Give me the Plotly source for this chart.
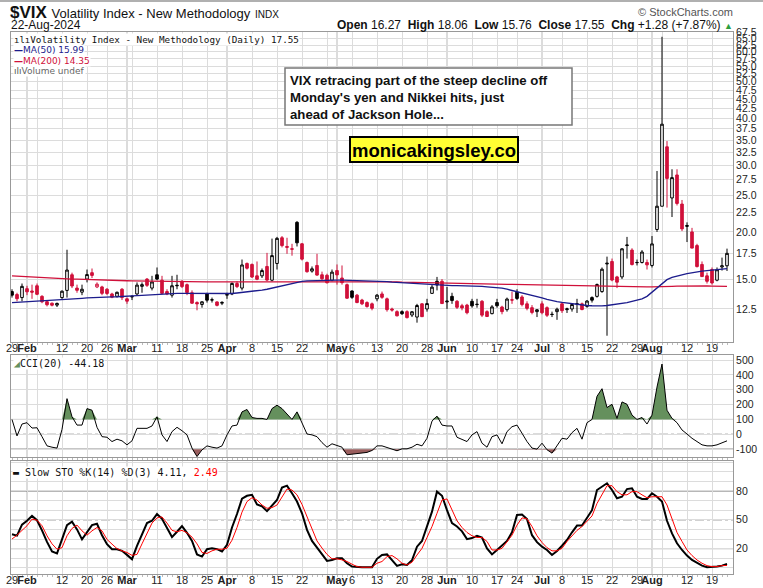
import plotly.graph_objects as go
import pandas as pd

# ---------------- data ----------------
HOLIDAYS = ["2024-02-19", "2024-03-29", "2024-05-27", "2024-06-19", "2024-07-04"]
dates = [d for d in pd.bdate_range("2024-01-29", "2024-08-22")
         if d.strftime("%Y-%m-%d") not in HOLIDAYS]
PREV_CLOSE = 13.26

opens = [
    13.90, 13.65, 13.40, 14.15, 13.95, 14.40, 13.50, 13.07, 12.95, 12.80,
    13.40, 14.00, 15.40, 14.20, 13.85, 15.00, 15.60, 14.30, 14.30, 14.10,
    13.70, 13.50, 14.10, 13.30, 13.45, 13.70, 14.35, 15.00, 14.20, 15.40,
    14.90, 13.90, 13.60, 14.45, 14.80, 14.50, 13.80, 13.00, 12.85, 13.70,
    13.20, 13.05, 12.95, 13.60, 13.70, 14.60, 14.20, 16.50, 16.40, 15.30,
    15.30, 16.20, 14.90, 16.50, 19.30, 18.30, 18.05, 21.20, 18.60, 16.60,
    15.75, 16.30, 15.40, 15.35, 14.90, 15.80, 15.10, 14.50, 13.95, 13.60,
    13.20, 13.00, 12.90, 13.30, 13.70, 13.30, 12.50, 12.30, 12.30, 12.30,
    12.05, 11.90, 12.90, 12.50, 13.75, 14.80, 14.80, 13.05, 13.50, 13.10,
    12.75, 12.80, 13.10, 12.84, 13.10, 12.30, 12.15, 13.00, 12.65, 12.45,
    13.22, 13.85, 13.45, 12.90, 12.60, 12.30, 12.90, 12.60, 12.10, 12.30,
    12.90, 12.45, 12.50, 12.90, 12.90, 12.70, 13.40, 13.50, 13.90, 16.45,
    16.70, 15.20, 15.20, 18.40, 17.90, 16.58, 16.60, 16.60, 16.30, 20.30,
    23.39, 33.60, 24.60, 28.30, 23.70, 20.80, 20.00, 18.40, 16.40, 15.30,
    15.90, 14.90, 16.15, 16.27]
highs = [
    14.10, 13.80, 14.60, 14.40, 14.50, 14.60, 13.60, 13.20, 13.00, 13.00,
    14.00, 17.94, 15.60, 14.50, 14.50, 15.90, 16.00, 14.70, 14.40, 14.20,
    13.80, 13.90, 14.20, 13.40, 13.60, 14.70, 14.70, 15.10, 15.30, 16.10,
    15.30, 14.10, 15.30, 15.40, 14.90, 14.60, 14.00, 13.10, 13.10, 13.80,
    13.40, 13.10, 13.10, 13.80, 14.70, 14.80, 16.90, 16.60, 16.50, 16.70,
    16.00, 17.60, 19.20, 19.40, 19.50, 19.30, 18.60, 21.36, 18.70, 16.70,
    16.20, 17.50, 15.70, 15.50, 15.90, 16.40, 16.30, 14.60, 14.00, 13.70,
    13.30, 13.10, 13.00, 13.70, 13.90, 13.40, 12.60, 12.40, 12.40, 12.40,
    12.35, 12.90, 12.95, 13.30, 14.50, 15.20, 15.00, 14.30, 13.80, 13.20,
    12.90, 12.90, 13.30, 13.30, 13.20, 12.40, 12.80, 13.30, 12.75, 13.40,
    13.90, 14.10, 13.60, 13.10, 12.80, 12.50, 13.10, 12.70, 12.30, 12.60,
    13.00, 12.60, 12.95, 13.30, 13.00, 13.20, 13.50, 14.60, 16.10, 17.20,
    17.00, 15.30, 18.10, 19.40, 18.10, 16.90, 17.90, 16.90, 19.50, 29.00,
    65.73, 34.80, 29.30, 29.30, 24.30, 21.20, 20.50, 18.60, 16.70, 15.60,
    16.10, 16.10, 17.10, 18.06]
lows = [
    13.40, 13.10, 13.10, 13.60, 13.30, 13.60, 12.95, 12.70, 12.70, 12.65,
    13.30, 13.40, 14.20, 13.80, 13.60, 14.70, 15.10, 14.20, 13.60, 13.60,
    13.35, 13.40, 13.20, 12.90, 13.20, 13.60, 13.80, 14.30, 14.00, 14.90,
    13.70, 13.60, 13.40, 14.10, 14.20, 13.60, 12.90, 12.40, 12.60, 13.00,
    13.00, 12.70, 12.80, 13.30, 13.60, 14.20, 14.00, 15.90, 15.10, 14.90,
    15.10, 14.80, 14.80, 15.90, 18.20, 17.50, 17.30, 18.30, 16.80, 15.60,
    15.60, 15.30, 14.90, 14.60, 14.80, 14.50, 14.50, 13.30, 13.30, 12.95,
    12.80, 12.60, 12.40, 13.10, 13.30, 12.30, 12.30, 11.95, 12.05, 11.80,
    11.90, 11.50, 11.90, 12.30, 13.70, 14.00, 12.90, 12.50, 12.90, 12.50,
    12.40, 12.10, 12.60, 12.60, 11.90, 11.90, 12.10, 12.60, 12.10, 12.30,
    12.90, 13.20, 12.70, 12.40, 12.10, 11.90, 12.10, 11.90, 11.90, 11.70,
    12.20, 12.20, 12.30, 12.20, 12.40, 12.60, 13.00, 13.40, 13.80, 10.62,
    14.80, 14.20, 15.00, 17.00, 16.30, 16.30, 16.50, 15.90, 16.10, 20.00,
    23.39, 23.20, 21.90, 23.50, 20.10, 18.80, 18.10, 16.10, 15.20, 14.60,
    14.50, 14.80, 15.80, 15.76]
closes = [
    13.60, 13.31, 14.35, 13.88, 13.85, 13.67, 13.06, 12.83, 12.79, 12.93,
    13.93, 15.85, 14.38, 14.01, 14.10, 15.42, 15.34, 14.54, 13.75, 13.74,
    13.43, 13.84, 13.40, 13.11, 13.49, 14.46, 14.50, 14.44, 14.74, 15.00,
    13.75, 13.70, 14.40, 14.41, 14.33, 13.82, 12.95, 12.90, 13.06, 13.19,
    13.22, 12.78, 13.01, 13.65, 14.61, 14.33, 16.35, 16.03, 15.19, 14.98,
    15.80, 14.91, 17.31, 19.23, 18.40, 18.21, 18.00, 18.71, 16.94, 15.69,
    15.97, 15.37, 15.03, 14.67, 15.65, 15.39, 14.68, 13.35, 13.42, 13.00,
    12.90, 12.69, 12.55, 13.60, 13.42, 12.45, 12.42, 11.99, 12.15, 11.86,
    12.29, 12.77, 11.93, 12.92, 14.28, 14.47, 12.92, 13.11, 13.16, 12.63,
    12.58, 12.22, 12.74, 12.86, 12.04, 11.94, 12.66, 12.75, 12.30, 13.28,
    13.20, 13.33, 12.84, 12.55, 12.24, 12.44, 12.22, 12.03, 12.09, 12.48,
    12.37, 12.51, 12.85, 12.89, 12.46, 13.12, 13.19, 14.51, 15.93, 16.52,
    14.91, 14.72, 18.04, 18.46, 16.39, 16.60, 17.69, 16.36, 18.59, 23.39,
    38.57, 27.71, 27.85, 23.79, 20.37, 20.71, 18.12, 16.19, 15.23, 14.80,
    14.65, 15.88, 16.27, 17.55]
ma50 = [
    13.00, 13.02, 13.04, 13.06, 13.08, 13.10, 13.12, 13.14, 13.16, 13.18,
    13.22, 13.25, 13.28, 13.31, 13.34, 13.37, 13.40, 13.42, 13.43, 13.45,
    13.46, 13.47, 13.48, 13.50, 13.53, 13.56, 13.59, 13.62, 13.65, 13.68,
    13.72, 13.73, 13.74, 13.75, 13.75, 13.75, 13.75, 13.74, 13.73, 13.72,
    13.71, 13.70, 13.70, 13.70, 13.74, 13.78, 13.82, 13.86, 13.90, 13.97,
    14.03, 14.10, 14.20, 14.30, 14.40, 14.50, 14.60, 14.70, 14.80, 14.83,
    14.85, 14.87, 14.88, 14.90, 14.90, 14.90, 14.90, 14.89, 14.88, 14.87,
    14.86, 14.85, 14.84, 14.82, 14.80, 14.77, 14.73, 14.70, 14.65, 14.62,
    14.59, 14.56, 14.53, 14.50, 14.47, 14.45, 14.44, 14.43, 14.42, 14.42,
    14.41, 14.41, 14.40, 14.37, 14.34, 14.30, 14.27, 14.24, 14.20, 14.10,
    14.00, 13.90, 13.80, 13.70, 13.60, 13.50, 13.38, 13.26, 13.15, 13.08,
    13.02, 12.96, 12.90, 12.85, 12.80, 12.77, 12.75, 12.73, 12.74, 12.77,
    12.82, 12.90, 12.95, 13.00, 13.10, 13.20, 13.30, 13.50, 13.85, 14.20,
    14.60, 14.95, 15.15, 15.30, 15.40, 15.50, 15.60, 15.68, 15.74, 15.80,
    15.85, 15.90, 15.95, 15.99]
ma200 = [
    15.30, 15.27, 15.25, 15.22, 15.20, 15.17, 15.15, 15.12, 15.10, 15.07,
    15.05, 15.02, 15.00, 14.99, 14.97, 14.96, 14.94, 14.93, 14.91, 14.90,
    14.89, 14.88, 14.86, 14.85, 14.84, 14.83, 14.82, 14.81, 14.80, 14.79,
    14.78, 14.77, 14.76, 14.76, 14.75, 14.75, 14.75, 14.75, 14.75, 14.75,
    14.75, 14.75, 14.75, 14.75, 14.75, 14.76, 14.76, 14.77, 14.77, 14.78,
    14.78, 14.78, 14.79, 14.79, 14.80, 14.80, 14.80, 14.80, 14.80, 14.80,
    14.80, 14.80, 14.80, 14.80, 14.80, 14.80, 14.80, 14.80, 14.80, 14.80,
    14.80, 14.80, 14.80, 14.79, 14.78, 14.77, 14.75, 14.74, 14.72, 14.71,
    14.70, 14.68, 14.66, 14.64, 14.62, 14.60, 14.59, 14.58, 14.57, 14.57,
    14.56, 14.56, 14.55, 14.55, 14.54, 14.54, 14.53, 14.53, 14.52, 14.52,
    14.52, 14.51, 14.51, 14.51, 14.50, 14.50, 14.50, 14.50, 14.49, 14.48,
    14.47, 14.46, 14.45, 14.44, 14.43, 14.42, 14.41, 14.40, 14.39, 14.38,
    14.37, 14.36, 14.35, 14.34, 14.33, 14.32, 14.31, 14.30, 14.30, 14.30,
    14.31, 14.33, 14.35, 14.37, 14.38, 14.39, 14.40, 14.40, 14.39, 14.38,
    14.37, 14.36, 14.35, 14.35]
cci = [
    100, -11, 69, 78, 42, 44, -16, -78, -87, -93,
    33, 240, 118, 62, 62, 173, 162, 47, -16, -20,
    -49, -33, -44, -71, -44, 40, 40, 40, 56, 118,
    -4, -49, 18, 47, 24, -4, -93, -150, -105, -78,
    -87, -93, -78, -4, 56, 62, 151, 167, 113, 107,
    107, 100, 173, 196, 173, 140, 100, 151, 73, 2,
    -4, -16, -56, -87, -64, -78, -87, -138, -133, -131,
    -127, -122, -109, -78, -78, -87, -100, -111, -98, -98,
    -87, -67, -78, -27, 89, 122, 62, 56, 56, -20,
    -33, -49, -4, 18, -60, -87, -16, -4, -64, 18,
    51, 62, 7, -49, -93, -100, -60, -104, -127, -78,
    -27, -33, 11, 40, -33, 78, 100, 256, 307, 180,
    202, 107, 218, 202, 129, 100, 113, 69, 129, 318,
    473, 162, 107, 78, 29, 2, -27, -49, -71, -78,
    -78, -71, -56, -44.18]
sto_k = [
    35, 33.5, 45, 49, 54, 49.6, 39, 27, 17, 15,
    29.6, 44.5, 48, 40, 29.6, 36.5, 44.5, 45.9, 34, 24.7,
    19.4, 19.4, 17.7, 13.5, 9, 22.9, 34, 46.6, 49, 56,
    51, 41, 32, 37.6, 43.5, 36.5, 28, 14, 11.7, 19.4,
    20.4, 19.4, 17, 24, 42, 56, 72, 75, 76, 66,
    64, 59, 65.4, 70.6, 83.5, 85.5, 77.6, 69, 56.8, 39.5,
    28, 21, 14, 7.2, 8.2, 10, 10, 4.8, 1.3, 0.6,
    0.6, 0.6, 0.6, 9.4, 13.4, 14, 8.2, 2, 3.7, 3,
    7.9, 22, 28, 43, 58.5, 79.3, 75, 60, 46.6, 43,
    38, 29.9, 31, 33.4, 31.6, 20.3, 14, 18.6, 23, 28,
    37, 55, 55.6, 50.7, 34, 26.7, 22, 18.6, 13.4, 17.5,
    23, 29, 37, 44, 44, 52, 60, 81, 84.5, 88,
    81, 72.4, 74, 82, 82.8, 74, 71.7, 71.7, 77.6, 74,
    69, 49, 35.8, 25.6, 18.6, 12.8, 8.2, 4.8, 2.3, 0.6,
    0.6, 1.3, 2.3, 4.11]
sto_d = [
    30, 34, 39, 43.8, 50.7, 49.6, 43.8, 33.4, 25, 19.4,
    21, 33.4, 41, 44.5, 38.5, 34, 38.5, 42, 38.5, 29.6,
    24.7, 20, 17.7, 16, 13, 14, 25, 36.5, 46.6, 52,
    53, 46.6, 39, 37.6, 39, 36.5, 32, 25, 16, 15,
    17.7, 19.4, 19.4, 20.4, 28.8, 42, 58, 69, 73, 70.6,
    65.4, 62, 62.7, 65.4, 74, 82, 81, 76, 66, 53,
    39.5, 28, 20.6, 14, 9.4, 9.4, 8.3, 6.6, 3.8, 1.3,
    0.6, 0.6, 0.6, 4.8, 6.6, 11.7, 12.8, 9.4, 4.8, 3,
    5.8, 13.4, 20.3, 31.6, 43, 56.8, 70.6, 71.7, 60, 49,
    42, 36.8, 33.4, 31.6, 31.6, 27.5, 18.6, 18.6, 20.3, 27,
    34, 44.5, 52, 51, 43, 33.4, 26.4, 21, 17.7, 17.7,
    20.3, 27.5, 33.4, 39, 43, 48.8, 54, 67, 76.5, 85.5,
    85.5, 79.3, 76, 76, 79.3, 79.3, 76, 73, 74, 74,
    74, 65.4, 50, 36.8, 27.5, 18.6, 12.8, 8.2, 4.8, 2.3,
    1.3, 1.3, 2.3, 2.49]
price_ticks = [12.5, 15.0, 17.5, 20.0, 22.5, 25.0, 27.5, 30.0, 32.5, 35.0, 37.5,
               40.0, 42.5, 45.0, 47.5, 50.0, 52.5, 55.0, 57.5, 60.0, 62.5, 65.0, 67.5]
cci_ticks = [-100, 0, 100, 200, 300, 400, 500]
sto_ticks = [20, 50, 80]
sto_grid = [0, 10, 20, 30, 40, 50, 60, 70, 80, 90, 100, 110]

# ---------------- styling ----------------
RED = "#d0103a"
NAVY = "#1c1c8c"
GRID = "#dcdcdc"
MONTHGRID = "#b8b8b8"
FRAME = "#999999"
FONT = "Liberation Sans, Arial, sans-serif"

n = len(dates)
xs = list(range(n))
prev = [PREV_CLOSE] + closes[:-1]
up = [c >= p for c, p in zip(closes, prev)]
dn = [not u for u in up]


def sel(arr, mask):
    return [a if m else None for a, m in zip(arr, mask)]


# ticks: first trading day of each week and of each month
week_starts = [i for i in range(n)
               if i == 0 or dates[i].isocalendar()[1] != dates[i - 1].isocalendar()[1]]
month_starts = [i for i in range(1, n) if dates[i].month != dates[i - 1].month]
tickpos = sorted(set(week_starts + month_starts))
ticktext = []
for i in tickpos:
    if i in month_starts:
        ticktext.append("<b>" + dates[i].strftime("%b") + "</b>")
    elif any(0 < abs(i - m) < 3 for m in month_starts):
        ticktext.append("")
    else:
        ticktext.append(str(dates[i].day))

fig = go.Figure()
for mask, col in ((up, "black"), (dn, RED)):
    fig.add_trace(go.Candlestick(
        x=xs, open=sel(opens, mask), high=sel(highs, mask), low=sel(lows, mask),
        close=sel(closes, mask), xaxis="x", yaxis="y", showlegend=False,
        increasing=dict(line=dict(color=col, width=1), fillcolor="white"),
        decreasing=dict(line=dict(color=col, width=1), fillcolor=col),
        hoverinfo="skip"))
fig.add_trace(go.Scatter(x=xs, y=ma200, mode="lines", line=dict(color=RED, width=1.3),
                         xaxis="x", yaxis="y", showlegend=False, hoverinfo="skip"))
fig.add_trace(go.Scatter(x=xs, y=ma50, mode="lines", line=dict(color=NAVY, width=1.3),
                         xaxis="x", yaxis="y", showlegend=False, hoverinfo="skip"))

# CCI panel
fig.add_trace(go.Scatter(x=xs, y=[100] * n, mode="lines", line=dict(width=0),
                         xaxis="x2", yaxis="y2", showlegend=False, hoverinfo="skip"))
fig.add_trace(go.Scatter(x=xs, y=[max(c, 100) for c in cci], mode="lines", line=dict(width=0),
                         fill="tonexty", fillcolor="#65905d",
                         xaxis="x2", yaxis="y2", showlegend=False, hoverinfo="skip"))
fig.add_trace(go.Scatter(x=xs, y=[-100] * n, mode="lines", line=dict(width=0),
                         xaxis="x2", yaxis="y2", showlegend=False, hoverinfo="skip"))
fig.add_trace(go.Scatter(x=xs, y=[min(c, -100) for c in cci], mode="lines", line=dict(width=0),
                         fill="tonexty", fillcolor="#9a5e5e",
                         xaxis="x2", yaxis="y2", showlegend=False, hoverinfo="skip"))
fig.add_trace(go.Scatter(x=xs, y=cci, mode="lines", line=dict(color="black", width=1),
                         xaxis="x2", yaxis="y2", showlegend=False, hoverinfo="skip"))

# STO panel
fig.add_trace(go.Scatter(x=xs, y=sto_k, mode="lines", line=dict(color="black", width=2),
                         xaxis="x3", yaxis="y3", showlegend=False, hoverinfo="skip"))
fig.add_trace(go.Scatter(x=xs, y=sto_d, mode="lines", line=dict(color="#ff0000", width=1),
                         xaxis="x3", yaxis="y3", showlegend=False, hoverinfo="skip"))

# ---------------- layout ----------------
W, H = 763, 588
ML, MR, MT, MB = 11, 30, 32, 14
PW, PH = W - ML - MR, H - MT - MB


def PX(x):
    return (x - ML) / PW


def PY(y):
    return (H - MB - y) / PH


xcommon = dict(range=[-0.2, n + 0.2], tickmode="array", tickvals=tickpos, ticktext=ticktext,
               tickangle=0, automargin=False, ticklabelstandoff=-4,
               showgrid=True, gridcolor=GRID, gridwidth=1, zeroline=False,
               showline=True, mirror=True, linecolor=FRAME, linewidth=1,
               ticks="",
               minor=dict(tickmode="array", tickvals=xs, ticks="outside", ticklen=2,
                          tickcolor="#bbbbbb", showgrid=False),
               tickfont=dict(family=FONT, size=11, color="#222"))
ycommon = dict(side="right", showline=True, mirror=True, linecolor=FRAME, linewidth=1,
               automargin=False, zeroline=False, ticks="",
               tickfont=dict(family=FONT, size=10.5, color="#222"))

lay = dict(
    width=W, height=H, margin=dict(l=ML, r=MR, t=MT, b=MB, autoexpand=False),
    paper_bgcolor="white", plot_bgcolor="white", boxgap=0.25,
    xaxis=dict(**xcommon, anchor="y", rangeslider=dict(visible=False)),
    xaxis2=dict(**xcommon, anchor="y2", matches="x", showticklabels=False),
    xaxis3=dict(**xcommon, anchor="y3", matches="x"),
    yaxis=dict(**ycommon, type="log", range=[1.0095, 1.8304], domain=[PY(342), 1.0],
               tickmode="array", tickvals=price_ticks,
               ticktext=["%.1f" % v for v in price_ticks], showgrid=True, gridcolor=GRID),
    yaxis2=dict(**ycommon, range=[-153, 534], domain=[PY(457), PY(355)],
                tickmode="array", tickvals=cci_ticks, ticktext=[str(v) for v in cci_ticks],
                showgrid=True, gridcolor=GRID),
    yaxis3=dict(**ycommon, range=[-6.4, 111.2], domain=[0.0, PY(461)],
                tickmode="array", tickvals=sto_ticks, ticktext=[str(v) for v in sto_ticks],
                showgrid=False,
                minor=dict(tickmode="array", tickvals=sto_grid, showgrid=True,
                           gridcolor=GRID, ticks="")),
)
fig.update_layout(**lay)

shapes = []
# month separators
for m in month_starts:
    for xa, ya in (("x", "y domain"), ("x2", "y2 domain"), ("x3", "y3 domain")):
        shapes.append(dict(type="line", xref=xa, yref=ya, x0=m, x1=m, y0=0, y1=1,
                           line=dict(color=MONTHGRID, width=1), layer="below"))
# indicator reference lines
for yv, dash, ya, xa in ((100, "solid", "y2", "x2"), (-100, "solid", "y2", "x2"),
                         (0, "dashdot", "y2", "x2"), (80, "solid", "y3", "x3"),
                         (20, "solid", "y3", "x3"), (50, "dashdot", "y3", "x3")):
    shapes.append(dict(type="line", xref=xa + " domain", yref=ya, x0=0, x1=1, y0=yv, y1=yv,
                       line=dict(color="#666666", width=1, dash=dash), layer="below"))
# top border line of the image
shapes.append(dict(type="line", xref="paper", yref="paper", x0=PX(0), x1=PX(W),
                   y0=PY(1), y1=PY(1), line=dict(color="#b0b0b0", width=2)))
# comment box
shapes.append(dict(type="rect", xref="paper", yref="paper", x0=PX(285), x1=PX(572),
                   y0=PY(125), y1=PY(68), fillcolor="white",
                   line=dict(color="#777777", width=1.5)))
# yellow box
shapes.append(dict(type="rect", xref="paper", yref="paper", x0=PX(350), x1=PX(518),
                   y0=PY(162), y1=PY(137), fillcolor="#ffff33",
                   line=dict(color="black", width=2)))
fig.update_layout(shapes=shapes)

ann = []


def A(x, y, text, size=11, family=FONT, color="#111", anchor="left", bg=None):
    d = dict(xref="paper", yref="paper", x=PX(x), y=PY(y), text=text, showarrow=False,
             xanchor=anchor, yanchor="middle", align=anchor if anchor != "center" else "center",
             font=dict(family=family, size=size, color=color), borderpad=0)
    if bg:
        d["bgcolor"] = bg
    ann.append(d)


A(9, 12, "<b>$VIX</b> <span style='font-size:13px'>Volatility Index - New Methodology</span>"
         " <span style='font-size:10px'>INDX</span>", size=17)
A(10, 25, "22-Aug-2024", size=12)
A(734, 12, "© StockCharts.com", size=11, color="#555", anchor="right")
A(734, 25, "<b>Open</b> 16.27  <b>High</b> 18.06  <b>Low</b> 15.76  <b>Close</b> 17.55  "
           "<b>Chg</b> +1.28 (+7.87%) <span style='color:#2e9e3e;font-size:9px'>▲</span>",
  size=12, anchor="right")

MONO = "DejaVu Sans Mono"
SANS = "DejaVu Sans"
A(13, 39, "<span style='font-size:9px'>ılı</span>Volatility Index - New Methodology (Daily) 17.55",
  size=9.3, family=MONO, color="#111", bg="white")
A(13, 50, "<b>—</b>MA(50) 15.99", size=9, family=SANS, color=NAVY, bg="white")
A(13, 61, "<b>—</b>MA(200) 14.35", size=9, family=SANS, color=RED, bg="white")
A(13, 71, "<span style='color:#555'>ılı</span>Volume undef", size=9, family=SANS,
  color="#666", bg="white")

A(289, 97, "<b>VIX retracing part of the steep decline off<br>Monday's yen and Nikkei hits, just"
           "<br>ahead of Jackson Hole...</b>", size=13.2, color="#111")
A(434, 150, "<b>monicakingsley.co</b>", size=18.5, color="black", anchor="center")

A(13, 364, "<span style='color:#65905d'>◢</span>CCI(20) -44.18", size=10, family=MONO, bg="white")
A(12, 472, "<b>▬</b> Slow STO %K(14) %D(3) 4.11, <span style='color:#ff0000'>2.49</span>",
  size=10, family=MONO, bg="white")

fig.update_layout(annotations=ann)
fig.write_html("out.html", config={"displayModeBar": False},
               post_script="document.body.style.margin='0';"
                           "document.body.style.overflow='hidden';")
